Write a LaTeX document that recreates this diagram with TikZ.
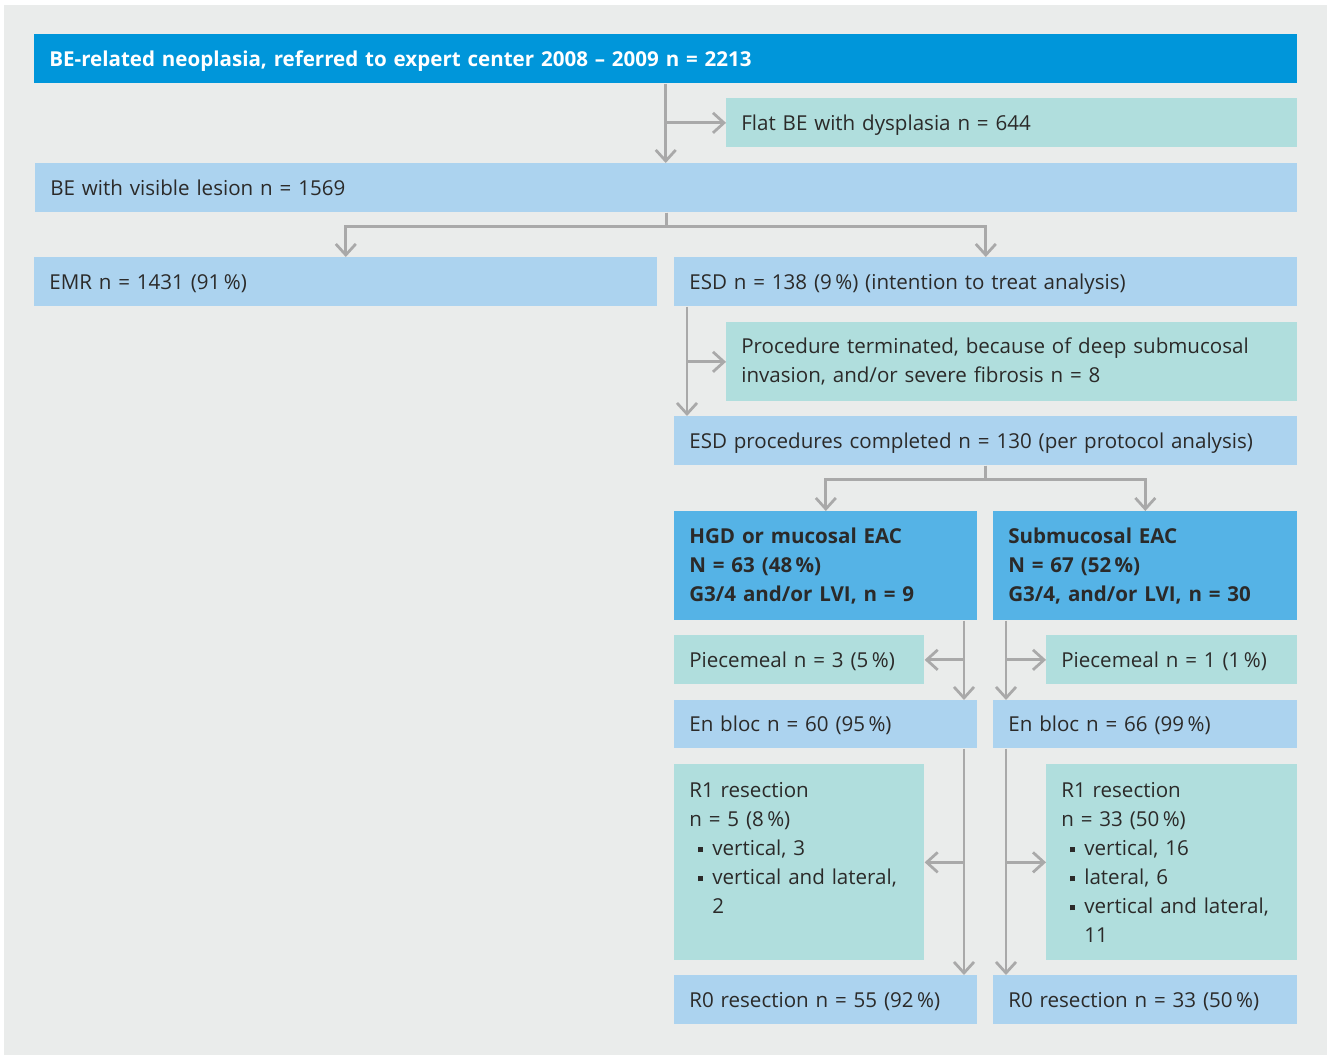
\documentclass[tikz,border=0pt]{standalone}
\usepackage{fontspec}
\setmainfont{Open Sans}
\usetikzlibrary{arrows.meta}

\definecolor{bgpanel}{HTML}{EAECEB}
\definecolor{headblue}{HTML}{0096DA}
\definecolor{lightblue}{HTML}{ACD3EF}
\definecolor{tealbox}{HTML}{B0DEDD}
\definecolor{midblue}{HTML}{55B3E6}
\definecolor{arrowgray}{HTML}{A9A9A9}
\definecolor{txt}{HTML}{2B2A29}

\newcommand{\boxfont}{\fontsize{11.7pt}{16.5pt}\selectfont}
\newcommand{\sqitem}{\hspace*{0.18cm}\rule[0.06cm]{0.1cm}{0.1cm}\hspace{0.18cm}}
\newcommand{\sqcont}{\hspace*{0.46cm}}

\begin{document}
\begin{tikzpicture}[x = 0.02cm, y = -0.02cm,
	box/.style = {rectangle, anchor = north west, inner xsep = 0.3cm, inner ysep = 0pt, align = left, font = \boxfont, text = txt, minimum height = 0.98cm},
	oneline/.style = {text height = 0.38cm, text depth = 0.08cm},
	conn/.style = {draw = arrowgray, line width = 0.055cm},
	arr/.style = {conn, -{Straight Barb[length = 0.22cm, width = 0.4cm]}}]
	\useasboundingbox (0,0) rectangle (1330,1055);
	\fill[bgpanel] (4,5) rectangle (1327,1055);
	\node[box, oneline, fill = headblue, text = white, font = \boxfont\bfseries, text width = 24.66cm] (refer) at (34,34) {BE-related neoplasia, referred to expert center 2008 -- 2009 n = 2213};
	\node[box, oneline, fill = tealbox, text width = 10.82cm] (flat) at (726,98) {Flat BE with dysplasia n = 644};
	\node[box, oneline, fill = lightblue, text width = 24.64cm] (lesion) at (35,163) {BE with visible lesion n = 1569};
	\node[box, oneline, fill = lightblue, text width = 11.86cm] (emr) at (34,257) {EMR n = 1431 (91\,\%)};
	\node[box, oneline, fill = lightblue, text width = 11.86cm] (esd) at (674,257) {ESD n = 138 (9\,\%) (intention to treat analysis)};
	\node[box, fill = tealbox, text width = 10.82cm, minimum height = 1.58cm] (stop) at (726,322) {Procedure terminated, because of deep submucosal\\invasion, and/or severe fibrosis n = 8};
	\node[box, oneline, fill = lightblue, text width = 11.86cm] (done) at (674,416) {ESD procedures completed n = 130 (per protocol analysis)};
	\node[box, fill = midblue, font = \boxfont\bfseries, text width = 5.46cm, minimum height = 2.18cm] (hgd) at (674,511) {HGD or mucosal EAC\\N = 63 (48\,\%)\\G3/4 and/or LVI, n = 9};
	\node[box, fill = midblue, font = \boxfont\bfseries, text width = 5.48cm, minimum height = 2.18cm] (submuc) at (993,511) {Submucosal EAC\\N = 67 (52\,\%)\\G3/4, and/or LVI, n = 30};
	\node[box, oneline, fill = tealbox, text width = 4.40cm] (piecel) at (674,635) {Piecemeal n = 3 (5\,\%)};
	\node[box, oneline, fill = tealbox, text width = 4.42cm] (piecer) at (1046,635) {Piecemeal n = 1 (1\,\%)};
	\node[box, oneline, fill = lightblue, text width = 5.46cm, minimum height = 0.96cm] (enblocl) at (674,700) {En bloc n = 60 (95\,\%)};
	\node[box, oneline, fill = lightblue, text width = 5.48cm, minimum height = 0.96cm] (enblocr) at (993,700) {En bloc n = 66 (99\,\%)};
	\node[box, fill = tealbox, text width = 4.40cm, minimum height = 3.92cm] (r1left) at (674,764) {R1 resection\\n = 5 (8\,\%)\\\sqitem vertical, 3\\\sqitem vertical and lateral,\\\sqcont 2\\\mbox{}};
	\node[box, fill = tealbox, text width = 4.42cm, minimum height = 3.92cm] (r1right) at (1046,764) {R1 resection\\n = 33 (50\,\%)\\\sqitem vertical, 16\\\sqitem lateral, 6\\\sqitem vertical and lateral,\\\sqcont 11};
	\node[box, oneline, fill = lightblue, text width = 5.46cm] (r0left) at (674,975) {R0 resection n = 55 (92\,\%)};
	\node[box, oneline, fill = lightblue, text width = 5.48cm] (r0right) at (993,975) {R0 resection n = 33 (50\,\%)};
	\coordinate (esdx) at (687,0);
	\coordinate (hgdx) at (964,0);
	\coordinate (subx) at (1006,0);
	\draw[arr] (refer.south) -- (refer.south |- lesion.north);
	\draw[arr] (refer.south |- flat.west) -- (flat.west);
	\draw[arr] (lesion.south) -- ++(0,14) -| (emr.north);
	\draw[arr] (lesion.south) -- ++(0,14) -| (esd.north);
	\draw[arr] (esdx |- esd.south) -- (esdx |- done.north);
	\draw[arr] (esdx |- stop.west) -- (stop.west);
	\draw[arr] (done.south) -- ++(0,14) -| (hgd.north);
	\draw[arr] (done.south) -- ++(0,14) -| (submuc.north);
	\draw[arr] (hgdx |- hgd.south) -- (hgdx |- enblocl.north);
	\draw[arr] (hgdx |- piecel.east) -- (piecel.east);
	\draw[arr] (subx |- submuc.south) -- (subx |- enblocr.north);
	\draw[arr] (subx |- piecer.west) -- (piecer.west);
	\draw[arr] (hgdx |- enblocl.south) -- (hgdx |- r0left.north);
	\draw[arr] (hgdx |- r1left.east) -- (r1left.east);
	\draw[arr] (subx |- enblocr.south) -- (subx |- r0right.north);
	\draw[arr] (subx |- r1right.west) -- (r1right.west);
\end{tikzpicture}
\end{document}
